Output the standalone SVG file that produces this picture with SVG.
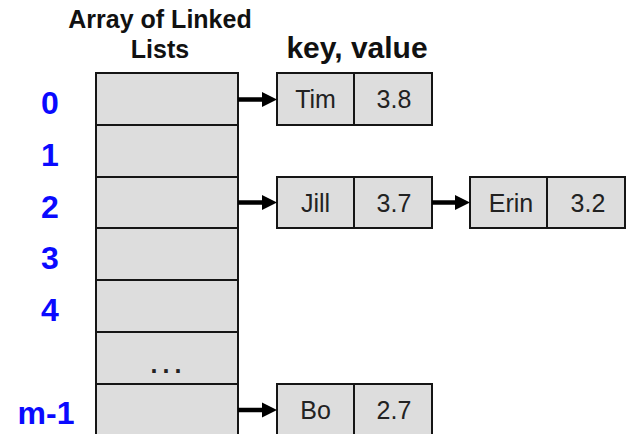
<svg xmlns="http://www.w3.org/2000/svg" width="627" height="434" viewBox="0 0 627 434">
  <style>
    .title { font-family: "Liberation Sans", Arial, sans-serif; font-weight: bold; fill: #111; text-anchor: middle; }
    .idx { font-family: "Liberation Sans", Arial, sans-serif; font-weight: bold; font-size: 32px; fill: #0a0aff; text-anchor: middle; }
    .cell { fill: #dddddd; stroke: #151515; stroke-width: 2; }
    .txt { font-family: "Liberation Sans", Arial, sans-serif; font-size: 25px; fill: #222; text-anchor: middle; }
    .link { stroke: #000; stroke-width: 4.5; fill: none; }
  </style>
  <defs>
    <!-- head starts at the end of the shaft and reaches 14px further -->
    <marker id="head" markerWidth="15" markerHeight="16" refX="1" refY="8" orient="auto" markerUnits="userSpaceOnUse">
      <path d="M0,0.5 L15,8 L0,15.5 Z" fill="#000"/>
    </marker>
  </defs>
  <rect width="627" height="434" fill="#fff"/>

  <!-- headings -->
  <g id="headings">
    <text class="title" font-size="25" x="160" y="28">Array of Linked</text>
    <text class="title" font-size="25" x="160" y="58">Lists</text>
    <text class="title" font-size="30" x="357" y="58">key, value</text>
  </g>

  <!-- bucket array -->
  <g id="array">
    <rect class="cell" x="96" y="73" width="142" height="52"/>
    <rect class="cell" x="96" y="125" width="142" height="52"/>
    <rect class="cell" x="96" y="177" width="142" height="51"/>
    <rect class="cell" x="96" y="228" width="142" height="52"/>
    <rect class="cell" x="96" y="280" width="142" height="52"/>
    <rect class="cell" x="96" y="332" width="142" height="52"/>
    <rect class="cell" x="96" y="384" width="142" height="56"/>
    <text class="txt" x="154 166 178" y="373" font-size="22" font-weight="bold" fill="#111">...</text>
  </g>

  <!-- bucket indices -->
  <g id="indices">
    <text class="idx" x="50" y="114">0</text>
    <text class="idx" x="50" y="166">1</text>
    <text class="idx" x="50" y="218">2</text>
    <text class="idx" x="50" y="269">3</text>
    <text class="idx" x="50" y="321">4</text>
    <text class="idx" x="46" y="424">m-1</text>
  </g>

  <!-- list entries -->
  <g id="node-tim">
    <rect class="cell" x="277" y="73" width="77" height="52"/>
    <rect class="cell" x="354" y="73" width="78" height="52"/>
    <text class="txt" x="315.5" y="108">Tim</text>
    <text class="txt" x="394" y="108">3.8</text>
  </g>
  <g id="node-jill">
    <rect class="cell" x="277" y="177" width="77" height="51"/>
    <rect class="cell" x="354" y="177" width="78" height="51"/>
    <text class="txt" x="315.5" y="211.5">Jill</text>
    <text class="txt" x="394" y="211.5">3.7</text>
  </g>
  <g id="node-erin">
    <rect class="cell" x="470" y="177" width="77" height="51"/>
    <rect class="cell" x="547" y="177" width="78" height="51"/>
    <text class="txt" x="511" y="211.5">Erin</text>
    <text class="txt" x="588" y="211.5">3.2</text>
  </g>
  <g id="node-bo">
    <rect class="cell" x="277" y="384" width="77" height="56"/>
    <rect class="cell" x="354" y="384" width="78" height="56"/>
    <text class="txt" x="315.5" y="419">Bo</text>
    <text class="txt" x="394" y="419">2.7</text>
  </g>

  <!-- pointers -->
  <g id="connectors">
    <line class="link" x1="238" y1="99.5" x2="263" y2="99.5" marker-end="url(#head)"/>
    <line class="link" x1="238" y1="202.5" x2="263" y2="202.5" marker-end="url(#head)"/>
    <line class="link" x1="432" y1="202.5" x2="456" y2="202.5" marker-end="url(#head)"/>
    <line class="link" x1="238" y1="410" x2="263" y2="410" marker-end="url(#head)"/>
  </g>
</svg>
